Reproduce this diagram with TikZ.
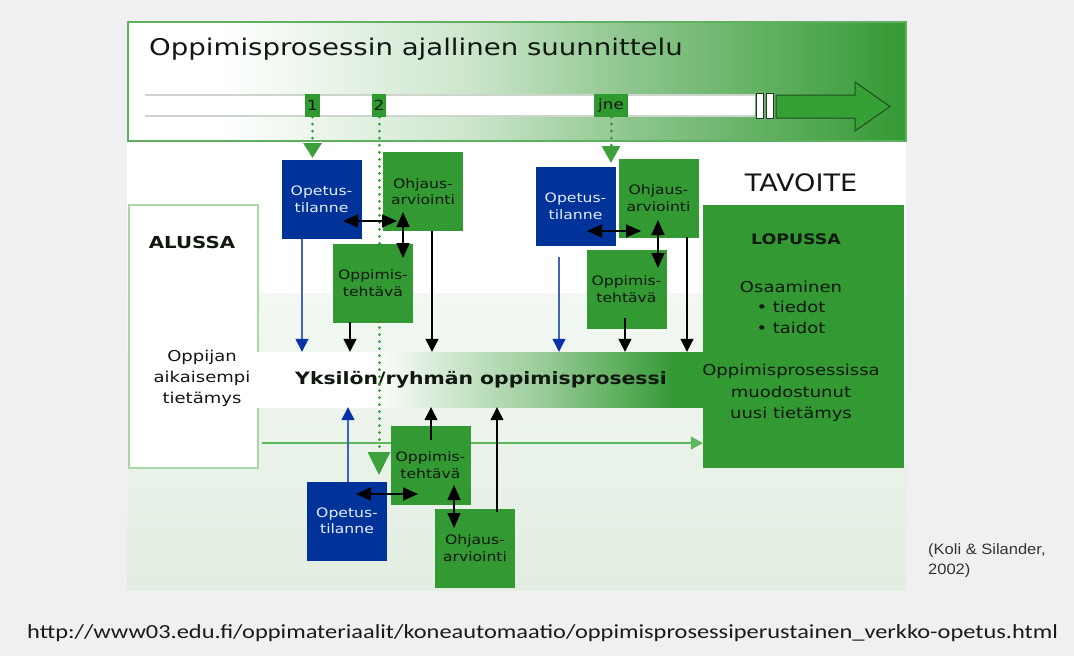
\documentclass[tikz,border=0pt]{standalone}
\usepackage{fontspec}
\setmainfont{DejaVu Sans}
\newfontfamily\dfont[FakeStretch=1.2]{DejaVu Sans}
\newfontfamily\gfont[FakeStretch=1.13]{DejaVu Sans}
\newfontfamily\citefont[FakeStretch=1.1]{Liberation Sans}
\newfontfamily\urlfont[FakeStretch=1.22]{Carlito}
\usetikzlibrary{arrows.meta}

\definecolor{pagebg}{HTML}{F0F0F2}
\definecolor{boxgreen}{HTML}{339933}
\definecolor{boxblue}{HTML}{003399}
\definecolor{lineblue}{HTML}{3F62C8}
\definecolor{tipblue}{HTML}{0A32A8}
\definecolor{dotgreen}{HTML}{2F9A2F}
\definecolor{trigreen}{HTML}{3DA03D}
\definecolor{flowgreen}{HTML}{5DB85D}
\definecolor{paleA}{HTML}{F3F8F3}
\definecolor{paleB}{HTML}{E2EEE2}
\definecolor{bannerline}{HTML}{5FB05F}
\definecolor{barline}{HTML}{CCD6CC}
\definecolor{breakline}{HTML}{2A3A2A}
\definecolor{arrowgreen}{HTML}{35A035}
\definecolor{arrowline}{HTML}{1F4F1F}
\definecolor{markgreen}{HTML}{2F9A2F}
\definecolor{darktext}{HTML}{101810}
\definecolor{bluetext}{HTML}{E6EEFF}
\definecolor{framegreen}{HTML}{A8D8A8}
\definecolor{citetext}{HTML}{333333}
\definecolor{urltext}{HTML}{1A1A1A}

\pgfdeclarehorizontalshading{bannershade}{100bp}{color(0bp)=(white); color(31bp)=(white); color(47bp)=(boxgreen!25!white); color(57bp)=(boxgreen!55!white); color(67bp)=(boxgreen!80!white); color(75bp)=(boxgreen); color(100bp)=(boxgreen)}
\pgfdeclarehorizontalshading{bandshade}{100bp}{color(0bp)=(white); color(38bp)=(white); color(57bp)=(boxgreen!50!white); color(72bp)=(boxgreen); color(100bp)=(boxgreen)}

\tikzset{
  gbox/.style={fill=boxgreen, minimum width=80pt, minimum height=79pt, inner sep=0pt,
    align=center, font=\dfont\fontsize{13}{16.5}\selectfont, text=darktext},
  bbox/.style={gbox, fill=boxblue, text=bluetext},
  marker/.style={fill=markgreen, minimum height=23pt, inner sep=0pt,
    font=\dfont\fontsize{14}{14}\selectfont, text=darktext},
  dbl/.style={{Triangle[length=15pt,width=13pt]}-{Triangle[length=15pt,width=13pt]}, line width=1.5pt, black},
  karrow/.style={-{Triangle[length=13pt,width=13pt]}, line width=1.3pt, black},
  barrow/.style={-{Triangle[length=13pt,width=13pt,color=tipblue]}, line width=1.3pt, lineblue},
  dotline/.style={dotgreen, line width=3pt, line cap=round, dash pattern=on 0.01pt off 7pt},
}

\begin{document}
\begin{tikzpicture}[x=1pt,y=-1pt]
\useasboundingbox (0,0) rectangle (1074,656);
\fill[pagebg] (0,0) rectangle (1074,656);

% backdrop of the diagram
\fill[white] (127,141) rectangle (906,590);
\shade[top color=paleA, bottom color=paleB] (127,293) rectangle (906,590);

% time-planning banner
\shade[shading=bannershade] (128,22) rectangle (906,141);
\draw[bannerline, line width=1.5pt] (128,22) rectangle (906,141);
\node[anchor=base west, inner sep=0pt, font=\dfont\fontsize{23}{23}\selectfont, text=darktext]
  (title) at (149,55) {Oppimisprosessin ajallinen suunnittelu};

% time line
\fill[white] (145,94) rectangle (755,117);
\draw[barline, line width=2.5pt] (145,95) -- (755,95) (145,116) -- (755,116);
\draw[fill=white, draw=breakline, line width=1pt] (756,93) rectangle (763,118) (766,93) rectangle (773,118);
\draw[fill=arrowgreen, draw=arrowline, line width=1pt]
  (776,95) -- (855,95) -- (855,82) -- (890,106.5) -- (855,131) -- (855,118) -- (776,118) -- cycle;

\node[marker, minimum width=15pt] (m1) at (312.5,105.5) {1};
\node[marker, minimum width=14pt] (m2) at (379,105.5) {2};
\node[marker, minimum width=34pt] (mjne) at (611,105.5) {jne};

% start and goal
\node[draw=framegreen, line width=1.5pt, fill=white, minimum width=129pt, minimum height=263pt, inner sep=0pt]
  (alussa) at (193.5,336.5) {};
\node[font=\dfont\bfseries\fontsize{16.5}{16.5}\selectfont, text=darktext] (alussaT) at (192,242) {ALUSSA};
\node[align=center, font=\dfont\fontsize{15}{21}\selectfont, text=darktext] (prior) at (202,378)
  {Oppijan\\aikaisempi\\tietämys};

\node[font=\gfont\fontsize{24}{24}\selectfont, text=darktext] (tavoite) at (801,183) {TAVOITE};
\node[fill=boxgreen, minimum width=201pt, minimum height=263pt, inner sep=0pt] (lopussa) at (803.5,336.5) {};
\node[font=\dfont\bfseries\fontsize{14.5}{14.5}\selectfont, text=darktext] (lopussaT) at (796,239) {LOPUSSA};
\node[align=center, font=\dfont\fontsize{15}{20.5}\selectfont, text=darktext] (skills) at (791,307)
  {Osaaminen\\\textbullet\ tiedot\\\textbullet\ taidot};
\node[align=center, font=\dfont\fontsize{15}{21.5}\selectfont, text=darktext] (newknow) at (791,393)
  {Oppimisprosessissa\\muodostunut\\uusi tietämys};

% learning process band
\node[shade, shading=bandshade, minimum width=448pt, minimum height=55pt, inner sep=0pt,
  font=\dfont\bfseries\fontsize{17}{17}\selectfont, text=darktext] (band) at (479,379.5)
  {\hspace*{4pt}Yksilön/ryhmän oppimisprosessi};

\coordinate (flowstart) at (262,443);
\draw[flowgreen, line width=1.5pt, -{Triangle[length=12pt,width=13pt]}] (flowstart) -- (flowstart -| lopussa.west);

% box positions (the boxes are drawn after the dotted links)
\coordinate (c-op1) at (321.5,199.5);
\coordinate (c-op2) at (575.5,206.5);
\coordinate (c-op3) at (347,521);

% dotted timing links from the time line
\draw[dotline, -{Triangle[length=15pt,width=18pt,color=trigreen]}, shorten >=2pt]
  (m1.south) -- (m1.south |- 0,160);
\draw[dotline, -{Triangle[length=23pt,width=22pt,color=trigreen]}, shorten >=7pt]
  (m2.south) -- (m2.south |- 0,482);
\draw[dotline, -{Triangle[length=17pt,width=18pt,color=trigreen]}, shorten >=4pt]
  (mjne.south) -- (mjne.south |- 0,167);

% boxes
\node[bbox] (op1) at (c-op1) {Opetus-\\tilanne};
\node[gbox] (oh1) at (423,191.5) {Ohjaus-\\arviointi};
\node[gbox] (opp1) at (373,283) {Oppimis-\\tehtävä};
\node[bbox] (op2) at (c-op2) {Opetus-\\tilanne};
\node[gbox] (oh2) at (658.5,198) {Ohjaus-\\arviointi};
\node[gbox] (opp2) at (626.5,289) {Oppimis-\\tehtävä};
\node[bbox] (op3) at (c-op3) {Opetus-\\tilanne};
\node[gbox] (opp3) at (430.5,465) {Oppimis-\\tehtävä};
\node[gbox] (oh3) at (475,548) {Ohjaus-\\arviointi};

% links between the boxes
\draw[dbl] ([shift={(21.5,21.5)}]op1.center) -- ([shift={(-26,29.5)}]oh1.center);
\draw[dbl] ([shift={(-20,20.5)}]oh1.center) -- ([shift={(30,-25)}]opp1.center);
\draw[dbl] ([shift={(11.5,24.5)}]op2.center) -- ([shift={(-17.5,33)}]oh2.center);
\draw[dbl] ([shift={(-0.5,22)}]oh2.center) -- ([shift={(31.5,-21)}]opp2.center);
\draw[dbl] ([shift={(9,-27)}]op3.center) -- ([shift={(-12.5,29)}]opp3.center);
\draw[dbl] ([shift={(23.5,20)}]opp3.center) -- ([shift={(-21,-20)}]oh3.center);

% links into the learning process
\draw[barrow] ([shift={(-19.5,39.5)}]op1.center) coordinate (s1) -- (s1 |- band.north);
\draw[karrow] ([shift={(-23,39)}]opp1.center) coordinate (s2) -- (s2 |- band.north);
\draw[karrow] ([shift={(9,39.5)}]oh1.center) coordinate (s3) -- (s3 |- band.north);
\draw[barrow] ([shift={(-16.5,50.5)}]op2.center) coordinate (s4) -- (s4 |- band.north);
\draw[karrow] ([shift={(-1.5,29)}]opp2.center) coordinate (s5) -- (s5 |- band.north);
\draw[karrow] ([shift={(28.5,39)}]oh2.center) coordinate (s6) -- (s6 |- band.north);
\draw[barrow] ([shift={(1,-39)}]op3.center) coordinate (s7) -- (s7 |- band.south);
\draw[karrow] ([shift={(0.5,-25)}]opp3.center) coordinate (s8) -- (s8 |- band.south);
\draw[karrow] ([shift={(22,-36)}]oh3.center) coordinate (s9) -- (s9 |- band.south);

% source and address
\node[anchor=north west, align=left, inner sep=0pt, font=\citefont\fontsize{15}{20}\selectfont, text=citetext]
  (cite) at (928,543) {(Koli \& Silander,\\2002)};
\node[anchor=base west, inner sep=0pt, font=\urlfont\fontsize{20}{20}\selectfont, text=urltext]
  (url) at (27,638) {http://www03.edu.fi/oppimateriaalit/koneautomaatio/oppimisprosessiperustainen\_verkko-opetus.html};
\end{tikzpicture}
\end{document}
